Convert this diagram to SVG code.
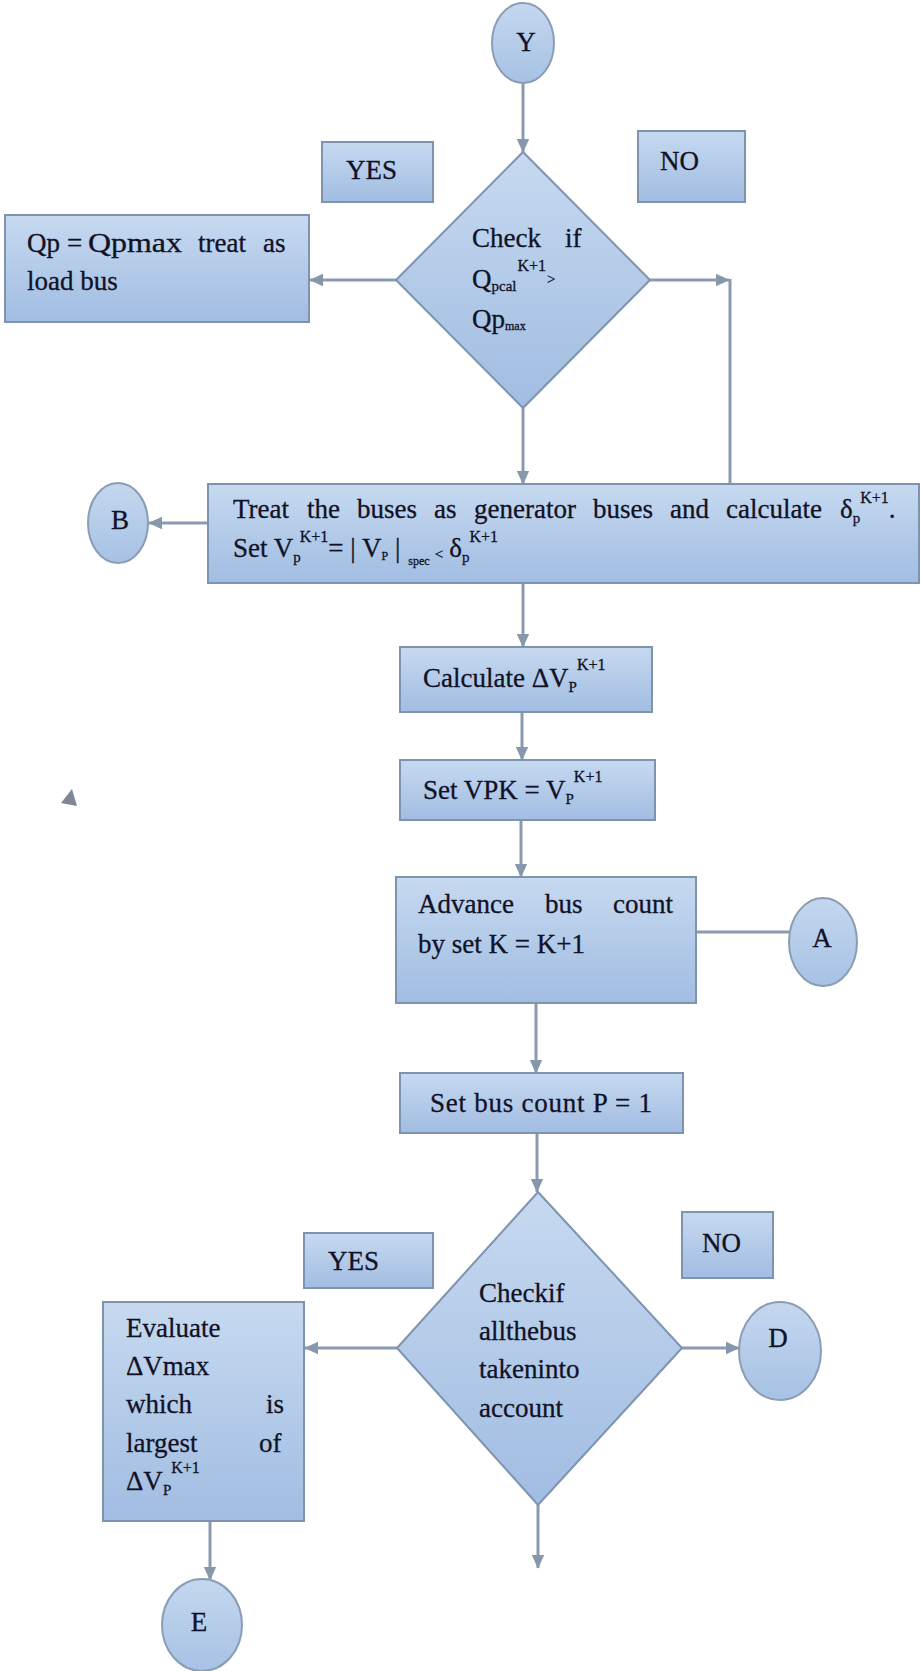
<svg xmlns="http://www.w3.org/2000/svg" width="921" height="1671" viewBox="0 0 921 1671">
<defs>
<linearGradient id="bg" x1="0" y1="0" x2="0" y2="1">
<stop offset="0" stop-color="#c6d9f0"/>
<stop offset="1" stop-color="#a1bde2"/>
</linearGradient>
<linearGradient id="eg" x1="0" y1="0" x2="0" y2="1">
<stop offset="0" stop-color="#c4d7ee"/>
<stop offset="1" stop-color="#a7c2e5"/>
</linearGradient>
<marker id="ah" viewBox="0 0 10 10" refX="9.5" refY="5" markerWidth="14" markerHeight="14" markerUnits="userSpaceOnUse" orient="auto">
<path d="M0,0.5 L10,5 L0,9.5 z" fill="#8798ad"/>
</marker>
</defs>
<style>
.box{fill:url(#bg);stroke:#7d93ae;stroke-width:2}
.ell{fill:url(#eg);stroke:#8a9db5;stroke-width:2}
.conn{stroke:#8a9bb0;stroke-width:3;fill:none}
.arr{marker-end:url(#ah)}
.t{font-family:"Liberation Serif","Times New Roman",serif;font-size:27px;fill:#121226;stroke:#121226;stroke-width:0.3}
.c{text-anchor:middle}
.sup{font-size:16px}
.sub{font-size:15px}
.tiny{font-size:12px}
</style>
<rect width="921" height="1671" fill="#ffffff"/>

<g id="connectors">
<line class="conn arr" x1="523" y1="83" x2="523" y2="152"/>
<line class="conn arr" x1="396" y1="280" x2="310" y2="280"/>
<line class="conn arr" x1="650" y1="280" x2="729" y2="280"/>
<line class="conn" x1="730" y1="279" x2="730" y2="484"/>
<line class="conn arr" x1="523" y1="408" x2="523" y2="484"/>
<line class="conn arr" x1="208" y1="523" x2="149" y2="523"/>
<line class="conn arr" x1="523" y1="583" x2="523" y2="647"/>
<line class="conn arr" x1="522" y1="712" x2="522" y2="760"/>
<line class="conn arr" x1="521" y1="820" x2="521" y2="877"/>
<line class="conn" x1="696" y1="932" x2="789" y2="932"/>
<line class="conn arr" x1="536" y1="1003" x2="536" y2="1073"/>
<line class="conn arr" x1="537" y1="1133" x2="537" y2="1192"/>
<line class="conn arr" x1="397" y1="1348" x2="305" y2="1348"/>
<line class="conn arr" x1="682" y1="1348" x2="739" y2="1348"/>
<line class="conn arr" x1="538" y1="1505" x2="538" y2="1568"/>
<line class="conn arr" x1="210" y1="1521" x2="210" y2="1580"/>
</g>

<g id="node-Y">
<ellipse class="ell" cx="523" cy="43" rx="31" ry="40"/>
<text class="t c" x="526" y="51" font-size="28">Y</text>
</g>

<g id="label-yes-1">
<rect class="box" x="322" y="142" width="111" height="60"/>
<text class="t" x="346" y="179">YES</text>
</g>

<g id="label-no-1">
<rect class="box" x="638" y="131" width="107" height="71"/>
<text class="t" x="660" y="170">NO</text>
</g>

<g id="decision-1">
<polygon class="box" points="523,152 650,280 523,408 396,280"/>
<text class="t" y="247"><tspan x="472">Check</tspan><tspan x="565">if</tspan></text>
<text class="t" x="472" y="288">Q<tspan class="sub" dy="3">pcal</tspan><tspan class="sup" dx="1" dy="-20">K+1</tspan><tspan class="sub" dx="1" dy="13">&gt;</tspan></text>
<text class="t" x="472" y="328">Qp<tspan class="tiny" dy="2">max</tspan></text>
</g>

<g id="node-qp-load">
<rect class="box" x="5" y="215" width="304" height="107"/>
<text class="t" y="252"><tspan x="27">Qp</tspan><tspan x="67">=</tspan><tspan x="88" textLength="94" lengthAdjust="spacingAndGlyphs">Qpmax</tspan><tspan x="198">treat</tspan><tspan x="263">as</tspan></text>
<text class="t" x="27" y="290">load bus</text>
</g>

<g id="node-generator">
<rect class="box" x="208" y="484" width="711" height="99"/>
<text class="t" y="518"><tspan x="233">Treat</tspan><tspan x="307">the</tspan><tspan x="357">buses</tspan><tspan x="434">as</tspan><tspan x="474">generator</tspan><tspan x="593">buses</tspan><tspan x="670">and</tspan><tspan x="726">calculate</tspan><tspan x="840">δ</tspan><tspan class="sub" dy="5">p</tspan><tspan class="sup" dy="-20">K+1</tspan><tspan dy="15">.</tspan></text>
<text class="t" x="233" y="557">Set V<tspan class="sub" dy="5">p</tspan><tspan class="sup" dx="-1" dy="-20">K+1</tspan><tspan dy="15">= | V</tspan><tspan class="tiny" dy="3">P</tspan><tspan dy="-3"> |</tspan><tspan class="tiny" dx="8" dy="8">spec</tspan><tspan class="sub" dx="5" dy="-6">&lt;</tspan><tspan dx="6" dy="-2">δ</tspan><tspan class="sub" dy="5">p</tspan><tspan class="sup" dy="-20">K+1</tspan></text>
</g>

<g id="node-B">
<ellipse class="ell" cx="118" cy="523" rx="30" ry="40"/>
<text class="t c" x="120" y="529">B</text>
</g>

<g id="node-calculate">
<rect class="box" x="400" y="647" width="252" height="65"/>
<text class="t" x="423" y="687">Calculate ΔV<tspan class="sub" dy="5">P</tspan><tspan class="sup" dy="-22">K+1</tspan></text>
</g>

<g id="node-set-vpk">
<rect class="box" x="400" y="760" width="255" height="60"/>
<text class="t" x="423" y="799">Set VPK = V<tspan class="sub" dy="5">P</tspan><tspan class="sup" dy="-22">K+1</tspan></text>
</g>

<g id="node-advance">
<rect class="box" x="396" y="877" width="300" height="126"/>
<text class="t" y="913"><tspan x="418">Advance</tspan><tspan x="545">bus</tspan><tspan x="613">count</tspan></text>
<text class="t" x="418" y="953">by set K = K+1</text>
</g>

<g id="node-A">
<ellipse class="ell" cx="823" cy="942" rx="34" ry="44"/>
<text class="t c" x="822" y="947" font-size="24">A</text>
</g>

<g id="node-set-bus-count">
<rect class="box" x="400" y="1073" width="283" height="60"/>
<text class="t c" x="541" y="1112" textLength="222" lengthAdjust="spacing">Set bus count P = 1</text>
</g>

<g id="label-yes-2">
<rect class="box" x="304" y="1233" width="129" height="55"/>
<text class="t" x="328" y="1270">YES</text>
</g>

<g id="label-no-2">
<rect class="box" x="682" y="1212" width="91" height="66"/>
<text class="t" x="702" y="1252">NO</text>
</g>

<g id="decision-2">
<polygon class="box" points="538,1192 682,1348 538,1505 397,1348"/>
<text class="t" x="479" y="1302">Checkif</text>
<text class="t" x="479" y="1340">allthebus</text>
<text class="t" x="479" y="1378">takeninto</text>
<text class="t" x="479" y="1417">account</text>
</g>

<g id="node-evaluate">
<rect class="box" x="103" y="1302" width="201" height="219"/>
<text class="t" x="126" y="1337">Evaluate</text>
<text class="t" x="126" y="1375">ΔVmax</text>
<text class="t" y="1413"><tspan x="126">which</tspan><tspan x="266">is</tspan></text>
<text class="t" y="1452"><tspan x="126">largest</tspan><tspan x="259">of</tspan></text>
<text class="t" x="126" y="1490">ΔV<tspan class="sub" dy="5">P</tspan><tspan class="sup" dy="-22">K+1</tspan></text>
</g>

<g id="node-D">
<ellipse class="ell" cx="780" cy="1351" rx="41" ry="49"/>
<text class="t c" x="778" y="1347">D</text>
</g>

<g id="node-E">
<ellipse class="ell" cx="202" cy="1625" rx="40" ry="46"/>
<text class="t c" x="199" y="1631">E</text>
</g>

<polygon points="72,789 61,803 77,806" fill="#7d8796"/>
</svg>
